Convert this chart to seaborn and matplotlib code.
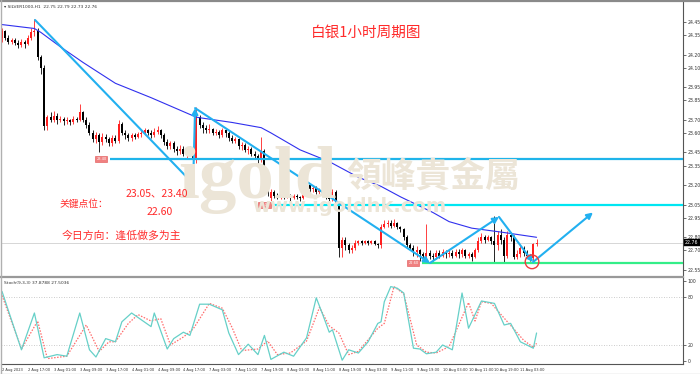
import numpy as np
import pandas as pd
import matplotlib
matplotlib.use("Agg")
import matplotlib.pyplot as plt
import seaborn as sns
from matplotlib.patches import Ellipse
import matplotlib.transforms as mtrans

# ---------------- data ----------------
opens = [24.33,24.38,24.33,24.30,24.31,24.29,24.27,24.30,24.28,24.33,
         24.37,24.38,24.18,24.10,23.65,23.72,23.70,23.73,23.70,23.71,
         23.69,23.70,23.68,23.71,23.70,23.76,23.70,23.66,23.60,23.55,
         23.58,23.53,23.57,23.55,23.52,23.56,23.54,23.67,23.60,23.58,
         23.56,23.58,23.57,23.59,23.60,23.62,23.60,23.58,23.61,23.62,
         23.58,23.53,23.50,23.52,23.48,23.46,23.48,23.44,23.47,23.45,
         23.39,23.72,23.66,23.64,23.62,23.63,23.60,23.61,23.58,23.62,
         23.60,23.56,23.54,23.55,23.50,23.51,23.47,23.48,23.44,23.42,
         23.39,23.46,23.24,23.10,23.15,23.12,23.11,23.12,23.11,23.12,
         23.10,23.12,23.11,23.10,23.13,23.20,23.17,23.18,23.15,23.16,
         23.13,23.11,23.09,23.15,23.04,22.72,22.78,22.74,22.70,22.72,
         22.76,22.77,22.76,22.77,22.76,22.77,22.75,22.74,22.88,22.90,
         22.91,22.89,22.91,22.88,22.86,22.80,22.74,22.72,22.69,22.70,
         22.67,22.66,22.68,22.66,22.65,22.68,22.66,22.69,22.67,22.68,
         22.66,22.69,22.67,22.70,22.66,22.67,22.65,22.70,22.77,22.80,
         22.78,22.80,22.77,22.74,22.82,22.78,22.66,22.82,22.80,22.65,
         22.67,22.72,22.68,22.66,22.64,22.75]
closes = [24.38,24.33,24.30,24.31,24.29,24.27,24.30,24.28,24.33,24.37,
          24.38,24.18,24.10,23.65,23.72,23.70,23.73,23.70,23.71,23.69,
          23.70,23.68,23.71,23.70,23.76,23.70,23.66,23.60,23.55,23.58,
          23.53,23.57,23.55,23.52,23.56,23.54,23.67,23.60,23.58,23.56,
          23.58,23.57,23.59,23.60,23.62,23.60,23.58,23.61,23.62,23.58,
          23.53,23.50,23.52,23.48,23.46,23.48,23.44,23.47,23.45,23.39,
          23.72,23.66,23.64,23.62,23.63,23.60,23.61,23.58,23.62,23.60,
          23.56,23.54,23.55,23.50,23.51,23.47,23.48,23.44,23.42,23.39,
          23.46,23.24,23.15,23.15,23.12,23.11,23.12,23.11,23.12,23.10,
          23.12,23.11,23.10,23.13,23.20,23.17,23.18,23.15,23.16,23.13,
          23.11,23.09,23.15,23.04,22.72,22.78,22.74,22.70,22.72,22.76,
          22.77,22.76,22.77,22.76,22.77,22.75,22.74,22.88,22.90,22.91,
          22.89,22.91,22.88,22.86,22.80,22.74,22.72,22.69,22.70,22.67,
          22.66,22.68,22.66,22.65,22.68,22.66,22.69,22.67,22.68,22.66,
          22.69,22.67,22.70,22.66,22.67,22.65,22.70,22.77,22.80,22.78,
          22.80,22.77,22.74,22.82,22.78,22.66,22.82,22.80,22.65,22.67,
          22.72,22.68,22.66,22.64,22.75,22.76]
highs = [24.40,24.39,24.35,24.33,24.33,24.31,24.32,24.31,24.35,24.40,
         24.47,24.40,24.20,24.12,23.74,23.76,23.77,23.75,23.73,23.72,
         23.72,23.71,23.73,23.72,23.82,23.77,23.72,23.68,23.62,23.61,
         23.60,23.60,23.59,23.57,23.58,23.58,23.70,23.68,23.62,23.60,
         23.60,23.60,23.61,23.62,23.64,23.63,23.62,23.64,23.65,23.63,
         23.60,23.55,23.54,23.54,23.50,23.51,23.50,23.49,23.50,23.47,
         23.80,23.74,23.68,23.66,23.67,23.64,23.63,23.62,23.64,23.63,
         23.62,23.58,23.57,23.56,23.53,23.52,23.50,23.49,23.46,23.44,
         23.57,23.48,23.26,23.17,23.16,23.14,23.14,23.13,23.14,23.13,
         23.13,23.13,23.12,23.15,23.22,23.21,23.20,23.19,23.18,23.17,
         23.14,23.12,23.17,23.16,23.05,22.80,22.80,22.76,22.74,22.78,
         22.78,22.78,22.78,22.78,22.78,22.78,22.76,22.90,22.93,22.93,
         22.93,22.94,22.92,22.89,22.87,22.82,22.76,22.74,22.73,22.71,
         22.69,22.90,22.70,22.68,22.70,22.70,22.71,22.70,22.70,22.70,
         22.71,22.71,22.72,22.71,22.69,22.69,22.72,22.80,22.83,22.82,
         22.82,22.81,22.96,22.85,22.86,22.80,22.85,22.84,22.82,22.70,
         22.74,22.73,22.70,22.67,22.76,22.79]
lows = [24.30,24.31,24.28,24.28,24.27,24.25,24.26,24.25,24.27,24.31,
        24.34,24.16,24.05,23.62,23.62,23.68,23.68,23.67,23.68,23.66,
        23.67,23.66,23.67,23.68,23.69,23.68,23.64,23.58,23.53,23.52,
        23.45,23.51,23.53,23.50,23.50,23.52,23.52,23.58,23.55,23.54,
        23.54,23.55,23.56,23.57,23.58,23.58,23.56,23.57,23.59,23.56,
        23.51,23.48,23.48,23.45,23.43,23.44,23.42,23.41,23.43,23.37,
        23.37,23.64,23.60,23.60,23.60,23.58,23.58,23.56,23.57,23.57,
        23.54,23.52,23.52,23.48,23.47,23.45,23.44,23.42,23.40,23.37,
        23.38,23.22,23.12,23.05,23.10,23.09,23.09,23.09,23.10,23.08,
        23.09,23.09,23.08,23.09,23.12,23.15,23.15,23.13,23.13,23.11,
        23.09,23.07,23.08,23.02,22.65,22.65,22.70,22.68,22.68,22.70,
        22.74,22.74,22.75,22.74,22.75,22.74,22.72,22.72,22.87,22.88,
        22.87,22.88,22.86,22.84,22.78,22.72,22.70,22.66,22.65,22.62,
        22.63,22.64,22.63,22.62,22.63,22.64,22.65,22.64,22.65,22.64,
        22.65,22.64,22.65,22.64,22.64,22.62,22.64,22.69,22.76,22.76,
        22.77,22.75,22.61,22.70,22.75,22.61,22.64,22.77,22.63,22.63,
        22.65,22.66,22.64,22.62,22.62,22.73]

ma_idx = [0, 10, 12, 18, 25, 35, 46, 60, 71, 80, 83, 92, 101, 110, 117, 123, 133, 138, 145, 154, 165]
ma_val = [24.43, 24.40, 24.37, 24.26, 24.14, 23.98, 23.87, 23.72, 23.68, 23.64, 23.60, 23.47,
          23.38, 23.26, 23.19, 23.11, 22.99, 22.92, 22.87, 22.84, 22.80]

k_idx = [0, 6, 10, 13, 17, 20, 24, 27, 29, 32, 35, 37, 40, 46, 47, 51, 53, 56, 58, 61, 64, 68,
         70, 73, 76, 79, 81, 83, 87, 90, 94, 97, 99, 101, 102, 105, 107, 110, 113, 116, 117, 118,
         120, 122, 124, 127, 129, 131, 134, 136, 139, 142, 144, 148, 152, 155, 157, 160, 164, 165]
k_val = [87, 14, 60, 4, 8, 6, 60, 14, 5, 28, 24, 49, 60, 43, 60, 15, 28, 36, 32, 71, 71, 64,
         35, 8, 21, 8, 32, 2, 11, 6, 29, 79, 58, 36, 39, 1, 14, 10, 24, 47, 49, 74,
         93, 91, 85, 16, 15, 9, 11, 20, 14, 85, 41, 75, 72, 45, 47, 24, 16, 35]
d_idx = [0, 6, 11, 14, 20, 26, 30, 33, 35, 39, 42, 46, 49, 52, 56, 59, 64, 68, 71, 74, 79, 82,
         85, 89, 94, 98, 101, 104, 107, 110, 116, 118, 121, 124, 128, 131, 134, 138, 144, 146,
         148, 151, 156, 158, 161, 164, 165]
d_val = [82, 15, 50, 3, 6, 45, 12, 24, 24, 47, 58, 50, 53, 20, 30, 40, 72, 66, 42, 13, 15, 25,
         8, 10, 25, 67, 44, 35, 8, 12, 41, 47, 93, 84, 20, 11, 10, 18, 73, 50,
         74, 72, 49, 40, 26, 17, 22]

xtick_idx = [0, 8, 16, 24, 32, 40, 48, 56, 64, 72, 80, 88, 96, 104, 112, 120, 128, 136, 144, 152, 160]
xtick_labels = ["2 Aug 2023", "2 Aug 17:00", "3 Aug 01:00", "3 Aug 09:00", "3 Aug 17:00",
                "4 Aug 01:00", "4 Aug 09:00", "4 Aug 17:00", "7 Aug 03:00", "7 Aug 11:00",
                "7 Aug 19:00", "8 Aug 03:00", "8 Aug 11:00", "8 Aug 19:00", "9 Aug 03:00",
                "9 Aug 11:00", "9 Aug 19:00", "10 Aug 03:00", "10 Aug 11:00", "10 Aug 19:00",
                "11 Aug 03:00"]
price_ticks = [24.45, 24.35, 24.20, 24.10, 23.95, 23.85, 23.70, 23.60, 23.45, 23.35,
               23.20, 23.05, 22.95, 22.80, 22.70, 22.55]
stoch_ticks = [100, 80, 20, 0]
stoch_levels = [80, 20]
key_levels = [23.40, 23.05, 22.60]
key_level_start = [33.3, 83.6, 129.6]
key_level_colors = ["#1fb4ea", "#00e6f2", "#33ee88"]
last_price = 22.76
path_idx = [10.2, 59.0, 59.6, 132.1, 153.4, 163.9, 182.4]
path_price = [24.465, 23.21, 23.79, 22.603, 22.956, 22.61, 22.99]

# ---------------- figure ----------------
sns.set_style("white")
plt.rcParams["font.family"] = ["DejaVu Sans", "Noto Sans CJK SC"]
W, H = 700, 374
fig = plt.figure(figsize=(7.0, 3.74), dpi=100)
fig.patch.set_facecolor("white")

def fx(x):
    return x / W

def fy(y):
    return 1 - y / H

ax = fig.add_axes([fx(1), fy(275), fx(683) - fx(1), fy(2) - fy(275)])
ax2 = fig.add_axes([fx(1), fy(364), fx(683) - fx(1), fy(277) - fy(364)])

XL = (-0.31, 210.2)
ax.set_xlim(*XL)
ax.set_ylim(22.511, 24.603)

df = pd.DataFrame({"i": np.arange(len(closes)), "o": opens, "h": highs, "l": lows, "c": closes})
up = df["c"] >= df["o"]
colors = np.where(up, "#ff2020", "#000000")
body_lo = np.minimum(df["o"], df["c"])
body_h = np.maximum(np.abs(df["c"] - df["o"]), 0.006)

# watermark
wm = "#ece5d7"
fig.text(fx(178), fy(198), "igold", fontsize=54, color=wm, family="Liberation Serif",
         weight="bold", ha="left", va="baseline", zorder=0)
fig.text(fx(433), fy(176), "領峰貴金屬", fontsize=25, color=wm, family=["Noto Sans CJK TC"],
         weight="bold", ha="center", va="center", zorder=0)
fig.text(fx(349), fy(206), "www.igoldhk.com", fontsize=14, color=wm, family="DejaVu Sans",
         weight="bold", ha="center", va="center", zorder=0)
ax.patch.set_alpha(0)
ax2.patch.set_alpha(0)

# candles
ax.vlines(df["i"], df["l"], df["h"], colors=colors, linewidth=0.6, zorder=3)
ax.bar(df["i"], body_h, bottom=body_lo, width=0.62, color=colors, linewidth=0, zorder=4)

# moving average
sns.lineplot(x=ma_idx, y=ma_val, ax=ax, color="#3030ee", linewidth=0.8, zorder=5)

# current price line
ax.axhline(last_price, color="#d0d0d0", linewidth=0.6, zorder=1)

# key level lines + labels
for lv, st, c in zip(key_levels, key_level_start, key_level_colors):
    ax.plot([st, XL[1]], [lv, lv], color=c, linewidth=1.6, zorder=6, solid_capstyle="butt")
    ax.text(st - 2.6, lv, f"{lv:.2f}", fontsize=2.6, color="white", ha="center", va="center",
            zorder=7, bbox=dict(boxstyle="square,pad=0.25", fc="#f08080", ec="#e05050", lw=0.4))

# drawn trend path with arrows
for k in range(len(path_idx) - 1):
    ax.annotate("", xy=(path_idx[k + 1], path_price[k + 1]), xytext=(path_idx[k], path_price[k]),
                arrowprops=dict(arrowstyle="-|>,head_length=0.35,head_width=0.18",
                                color="#22b0f0", lw=1.5, shrinkA=0, shrinkB=0), zorder=8)

# red circle at the low
ax.add_patch(Ellipse((163.6, 22.612), width=4.2, height=0.105, fill=False,
                     edgecolor="#f03c3c", linewidth=1.0, zorder=9))

# axes styling (main)
for s in ["top", "left", "bottom"]:
    ax.spines[s].set_visible(False)
ax.spines["right"].set_color("#555555")
ax.spines["right"].set_linewidth(0.8)
ax.yaxis.tick_right()
ax.set_yticks(price_ticks)
ax.set_yticklabels([f"{t:.2f}" for t in price_ticks])
ax.tick_params(axis="y", direction="out", length=2, width=0.5, labelsize=3.3, colors="#333333", pad=1.5)
ax.set_xticks([])

# current price tag
trans = mtrans.blended_transform_factory(ax.transAxes, ax.transData)
ax.text(1.003, last_price, f"{last_price:.2f}", transform=trans, fontsize=3.3, color="white",
        ha="left", va="center", zorder=10, clip_on=False,
        bbox=dict(boxstyle="square,pad=0.3", fc="black", ec="black", lw=0.3))

# header text
fig.text(fx(4), fy(7), "\u25be SILVER1000,H1  22.75 22.79 22.73 22.76", fontsize=3.2,
         color="#333333", ha="left", va="center")

# title and notes
cjk = ["Noto Sans CJK SC", "DejaVu Sans"]
red = "#ff2a2a"
fig.text(fx(366), fy(33), "白银1小时周期图", fontsize=10.5, color=red, ha="center", va="center", family=cjk)
fig.text(fx(84), fy(204), "关键点位：", fontsize=7, color=red, ha="center", va="center", family=cjk)
fig.text(fx(157), fy(193), "23.05、23.40", fontsize=7.5, color=red, ha="center", va="center", family=cjk)
fig.text(fx(160), fy(212), "22.60", fontsize=7.5, color=red, ha="center", va="center", family=cjk)
fig.text(fx(121), fy(235), "今日方向：逢低做多为主", fontsize=7.8, color=red, ha="center", va="center", family=cjk)

# ---------------- stochastic panel ----------------
ax2.set_xlim(*XL)
ax2.set_ylim(-3.75, 105)
for lv in stoch_levels:
    ax2.axhline(lv, color="#bbbbbb", linewidth=0.6, linestyle=(0, (1, 2)), zorder=1)
sns.lineplot(x=k_idx, y=k_val, ax=ax2, color="#66d0c8", linewidth=0.9, zorder=4)
sns.lineplot(x=d_idx, y=d_val, ax=ax2, color="#ff6b6b", linewidth=0.9, linestyle=(0, (1.2, 1.2)), zorder=3)

ax2.spines["left"].set_visible(False)
ax2.spines["top"].set_color("#999999")
ax2.spines["top"].set_linewidth(1.6)
ax2.spines["right"].set_color("#555555")
ax2.spines["right"].set_linewidth(0.8)
ax2.spines["bottom"].set_color("#555555")
ax2.spines["bottom"].set_linewidth(0.8)
ax2.yaxis.tick_right()
ax2.set_yticks(stoch_ticks)
ax2.set_yticklabels([str(t) for t in stoch_ticks])
ax2.tick_params(axis="y", direction="out", length=2, width=0.5, labelsize=3.3, colors="#333333", pad=1.5)
ax2.set_xticks(xtick_idx)
ax2.set_xticklabels(xtick_labels, ha="left")
ax2.tick_params(axis="x", direction="out", length=2, width=0.5, labelsize=2.6, colors="#333333", pad=1.2)
ax2.set_xlabel("")
ax2.set_ylabel("")
ax.set_xlabel("")
ax.set_ylabel("")
ax2.text(0.005, 0.93, "Stoch(9,3,3) 37.8788 27.5036", transform=ax2.transAxes, fontsize=3.2,
         color="#333333", ha="left", va="center")

# outer frame
fig.add_artist(plt.Line2D([0, 1], [fy(0.8), fy(0.8)], transform=fig.transFigure, color="#8a8a8a", lw=1.6))
fig.add_artist(plt.Line2D([fx(0.5), fx(0.5)], [0, 1], transform=fig.transFigure, color="#b0b0b0", lw=1.0))
fig.add_artist(plt.Line2D([0, 1], [fy(373.5), fy(373.5)], transform=fig.transFigure, color="#cccccc", lw=1.0))

fig.savefig("out.png", dpi=100, facecolor="white")
